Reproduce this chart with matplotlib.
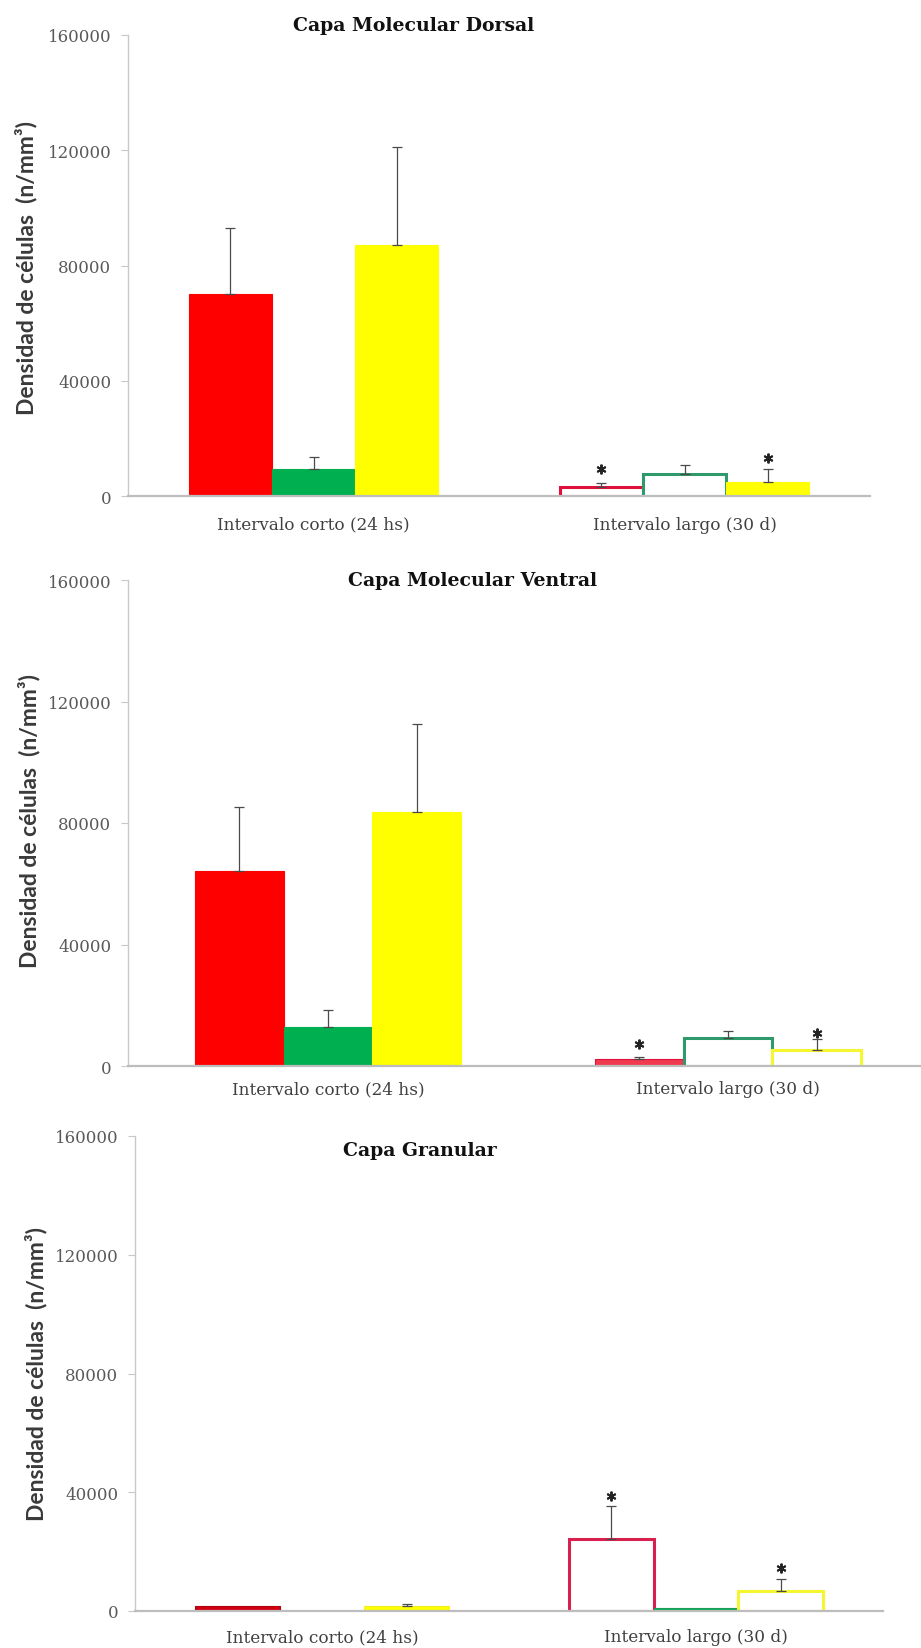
import matplotlib
matplotlib.use("Agg")
import matplotlib.pyplot as plt
import numpy as np

W, H = 921, 1649

categories = ["Intervalo corto (24 hs)", "Intervalo largo (30 d)"]
yticks = [0, 40000, 80000, 120000, 160000]
ylabel = "Densidad de células  (n/mm³)"
titles = ["Capa Molecular Dorsal", "Capa Molecular Ventral", "Capa Granular"]

# Panel 1: Capa Molecular Dorsal
dorsal_red = [70000, 3200]
dorsal_red_err = [23000, 1200]
dorsal_green = [9500, 7500]
dorsal_green_err = [4200, 3200]
dorsal_yellow = [87000, 4800]
dorsal_yellow_err = [34000, 4400]
dorsal_star_red = [None, 9200]
dorsal_star_yellow = [None, 13100]

# Panel 2: Capa Molecular Ventral
ventral_red = [64200, 2300]
ventral_red_err = [21000, 800]
ventral_green = [12800, 9100]
ventral_green_err = [5600, 2500]
ventral_yellow = [83600, 5300]
ventral_yellow_err = [29000, 3500]
ventral_star_red = [None, 7200]
ventral_star_yellow = [None, 10900]

# Panel 3: Capa Granular
granular_red = [1600, 24300]
granular_red_err = [0, 11000]
granular_green = [150, 900]
granular_green_err = [0, 0]
granular_yellow = [1800, 6800]
granular_yellow_err = [400, 4000]
granular_star_red = [None, 38900]
granular_star_yellow = [None, 14600]

panels = [
    dict(series=[(dorsal_red, dorsal_red_err, dorsal_star_red),
                 (dorsal_green, dorsal_green_err, None),
                 (dorsal_yellow, dorsal_yellow_err, dorsal_star_yellow)],
         styles=[[("#FF0000", "#FF0000"), ("white", "#E0103C")],
                 [("#00B050", "#00B050"), ("white", "#2E9A6B")],
                 [("#FFFF00", "#FFFF00"), ("#FFFF00", "#FFFF00")]],
         rect=(128, 870, 36, 497), xmax=2.0, bw=0.224,
         title_xy=(293, 26), ylab_xy=(26, 268), xlab_off=28),
    dict(series=[(ventral_red, ventral_red_err, ventral_star_red),
                 (ventral_green, ventral_green_err, None),
                 (ventral_yellow, ventral_yellow_err, ventral_star_yellow)],
         styles=[[("#FF0000", "#FF0000"), ("#F03A50", "#E0103C")],
                 [("#00B050", "#00B050"), ("white", "#2E9A6B")],
                 [("#FFFF00", "#FFFF00"), ("white", "#F5F530")]],
         rect=(128, 928, 581, 1067), xmax=2.0, bw=0.222,
         title_xy=(348, 581), ylab_xy=(29, 821), xlab_off=23),
    dict(series=[(granular_red, granular_red_err, granular_star_red),
                 (granular_green, granular_green_err, None),
                 (granular_yellow, granular_yellow_err, granular_star_yellow)],
         styles=[[("#D00010", "#B00010"), ("white", "#D8204E")],
                 [("#00B050", "#00B050"), ("#00B050", "#1E9A5B")],
                 [("#FFFF00", "#F0F020"), ("white", "#F5F530")]],
         rect=(135, 883, 1137, 1612), xmax=2.0, bw=0.227,
         title_xy=(343, 1151), ylab_xy=(36, 1374), xlab_off=26),
]

fig = plt.figure(figsize=(W / 100, H / 100), dpi=100)
fig.patch.set_facecolor("white")

centers = np.array([0.5, 1.5])
for i, p in enumerate(panels):
    l, r, t, b = p["rect"]
    ax = fig.add_axes([l / W, 1 - b / H, (r - l) / W, (b - t) / H])
    ax.set_xlim(0, p["xmax"])
    ax.set_ylim(0, 160000)
    bw = p["bw"]
    for k, (vals, errs, stars) in enumerate(p["series"]):
        xs = centers + (k - 1) * bw
        for j in range(2):
            fc, ec = p["styles"][k][j]
            hollow = fc == "white"
            ax.bar(xs[j], vals[j], width=bw, color=fc, edgecolor=ec,
                   linewidth=2.2 if hollow else 0.8, zorder=2)
            if errs[j] > 0:
                ax.errorbar(xs[j], vals[j], yerr=[[0], [errs[j]]], fmt="none",
                            ecolor="#4A4A4A", elinewidth=0.9, capsize=3.5,
                            capthick=0.9, zorder=3)
            if stars is not None and stars[j] is not None:
                ax.plot(xs[j], stars[j], marker=(6, 2, 0), ms=7, mew=1.4,
                        color="#222222", ls="none", zorder=4)
    for s in ["top", "right"]:
        ax.spines[s].set_visible(False)
    ax.spines["left"].set_color("#C8C8C8")
    ax.spines["left"].set_linewidth(1.0)
    ax.spines["bottom"].set_color("#BDBDBD")
    ax.spines["bottom"].set_linewidth(1.6)
    ax.set_yticks(yticks)
    ax.set_yticklabels([str(v) for v in yticks], family="DejaVu Serif",
                       fontsize=12, color="#595959")
    ax.tick_params(axis="y", length=5, width=0.8, color="#C8C8C8", pad=7)
    ax.set_xticks([])
    for c, lab in zip(centers, categories):
        ax.annotate(lab, xy=(c, 0), xycoords=("data", "axes fraction"),
                    xytext=(0, -p["xlab_off"] * 0.72), textcoords="offset points",
                    ha="center", va="center", family="DejaVu Serif",
                    fontsize=12.2, color="#404040", annotation_clip=False)
    tx, ty = p["title_xy"]
    fig.text(tx / W, 1 - ty / H, titles[i], ha="left", va="center",
             family="DejaVu Serif", fontweight="bold", fontsize=13.6, color="#111111")
    yx, yy = p["ylab_xy"]
    fig.text(yx / W, 1 - yy / H, ylabel, rotation=90, ha="center", va="center",
             family="Lato", fontweight="bold", fontsize=16.5, color="#3A3A3A")

fig.savefig("out.png", dpi=100, facecolor="white")
